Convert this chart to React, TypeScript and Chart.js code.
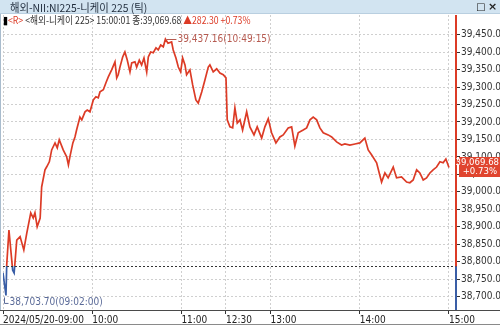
import { useEffect, useRef } from 'react';
import { Chart, registerables } from 'chart.js';

Chart.register(...registerables);

// ---- data ----
const TIMES: string[] = [
  '09:00:00', '09:01:00', '09:02:00', '09:02:30', '09:04:00', '09:06:30', '09:07:30', '09:09:15',
  '09:11:30', '09:14:00', '09:16:00', '09:18:40', '09:20:20', '09:21:30', '09:23:00', '09:25:00',
  '09:26:00', '09:28:15', '09:29:20', '09:31:10', '09:32:45', '09:35:00', '09:36:30', '09:37:50',
  '09:40:30', '09:42:50', '09:44:00', '09:45:00', '09:47:00', '09:48:25', '09:49:30', '09:51:45',
  '09:53:00', '09:55:10', '09:56:40', '09:58:30', '10:00:45', '10:02:30', '10:04:05', '10:05:15',
  '10:07:30', '10:09:15', '10:10:50', '10:13:05', '10:15:20', '10:16:30', '10:17:30', '10:18:40',
  '10:20:30', '10:22:00', '10:23:35', '10:25:25', '10:26:35', '10:28:45', '10:29:55', '10:31:40',
  '10:33:15', '10:34:50', '10:36:40', '10:37:45', '10:39:20', '10:41:05', '10:42:55', '10:44:25',
  '10:46:05', '10:47:50', '10:49:15', '10:51:00', '10:53:25', '10:54:30', '10:56:20', '10:57:55',
  '10:59:30', '11:00:50', '11:02:25', '11:03:30', '11:05:45', '11:07:35', '11:09:45', '11:11:20',
  '11:13:40', '11:15:50', '11:18:05', '11:19:10', '11:21:25', '11:23:45', '11:25:55', '11:28:10',
  '11:30:00', '12:30:50', '12:32:40', '12:34:30', '12:36:00', '12:37:35', '12:39:25', '12:41:10',
  '12:43:55', '12:46:05', '12:48:50', '12:51:00', '12:54:00', '12:56:10', '12:58:25', '13:00:40',
  '13:03:35', '13:06:15', '13:08:30', '13:11:50', '13:14:10', '13:16:20', '13:18:35', '13:21:55',
  '13:24:15', '13:26:30', '13:28:40', '13:31:00', '13:33:10', '13:35:25', '13:38:45', '13:41:05',
  '13:44:25', '13:47:45', '13:50:00', '13:53:20', '13:56:45', '14:00:05', '14:03:25', '14:05:40',
  '14:07:55', '14:11:20', '14:13:05', '14:14:40', '14:16:55', '14:19:05', '14:22:30', '14:24:45',
  '14:28:05', '14:31:30', '14:33:40', '14:35:55', '14:38:15', '14:40:25', '14:42:40', '14:44:55',
  '14:47:10', '14:49:20', '14:51:40', '14:53:55', '14:56:05', '14:57:55', '15:00:00',
];

const PRICES: number[] = [
  38768, 38735, 38703.7, 38791, 38891, 38776, 38768, 38862,
  38872, 38834, 38882, 38940, 38925, 38940, 38900, 38925,
  39014, 39063, 39071, 39086, 39120, 39140, 39126, 39149,
  39120, 39100, 39077, 39100, 39140, 39157, 39177, 39214,
  39206, 39229, 39234, 39229, 39263, 39272, 39269, 39286,
  39292, 39312, 39329, 39349, 39372, 39326, 39335, 39357,
  39386, 39400, 39377, 39343, 39369, 39372, 39357, 39377,
  39363, 39383, 39343, 39386, 39400, 39398, 39412, 39406,
  39420, 39415, 39437.16, 39425, 39429, 39406, 39383, 39357,
  39343, 39383, 39363, 39335, 39349, 39306, 39263, 39254,
  39286, 39320, 39357, 39363, 39343, 39352, 39340, 39335,
  39326, 39206, 39186, 39183, 39240, 39197, 39206, 39177,
  39229, 39186, 39163, 39186, 39154, 39186, 39209, 39169,
  39140, 39157, 39163, 39183, 39186, 39131, 39169, 39177,
  39183, 39206, 39214, 39206, 39183, 39169, 39163, 39157,
  39143, 39134, 39137, 39134, 39137, 39140, 39154, 39120,
  39106, 39083, 39054, 39028, 39054, 39040, 39071, 39040,
  39043, 39028, 39026, 39034, 39063, 39054, 39034, 39040,
  39054, 39063, 39071, 39086, 39083, 39094, 39069.68,
];

const PREV_CLOSE = 38787.38;
const LAST_PRICE = 39069.68;
const LAST_TIME = '15:00:01';
const CHANGE = 282.3;
const CHANGE_PCT = 0.73;
const HIGH_TIME = '10:49:15';
const HIGH_PRICE = 39437.16;
const LOW_TIME = '09:02:00';
const LOW_PRICE = 38703.7;

const Y_TICKS: number[] = [
  38700, 38750, 38800, 38850, 38900, 38950, 39000, 39050,
  39100, 39150, 39200, 39250, 39300, 39350, 39400, 39450,
];
const X_TICK_TIMES: string[] = ['09:00', '10:00', '11:00', '12:30', '13:00', '14:00', '15:00'];
const X_TICK_LABELS: string[] = ['2024/05/20-09:00', '10:00', '11:00', '12:30', '13:00', '14:00', '15:00'];

const TITLE = '해외-NII:NI225-니케이 225 (틱)';
const SUBTITLE_NAME = '<해외-니케이 225>';

// ---- helpers ----
const RED = '#dc3b26';
const BLUE = '#3a5ea6';
const NARROW = '"Liberation Sans Narrow", "DejaVu Sans Condensed", "Liberation Sans", sans-serif';

function tradingMinute(t: string): number {
  const parts = t.split(':').map(Number);
  const clock = parts[0] * 60 + parts[1] + (parts[2] || 0) / 60;
  const open = 9 * 60;
  const amClose = 11 * 60 + 30;
  const pmOpen = 12 * 60 + 30;
  if (clock <= amClose) return clock - open;
  return 150 + (clock - pmOpen);
}

const fmt = (v: number) =>
  v.toLocaleString('en-US', { minimumFractionDigits: 2, maximumFractionDigits: 2 });

const overlayPlugin = {
  id: 'overlay',
  afterDatasetsDraw(chart: any) {
    const { ctx, chartArea, scales } = chart;
    const xs = scales.x;
    const ys = scales.y;
    const yBase = Math.round(ys.getPixelForValue(PREV_CLOSE)) + 0.5;
    ctx.save();
    // previous close dashed line
    ctx.strokeStyle = '#333';
    ctx.lineWidth = 1;
    ctx.setLineDash([2, 2]);
    ctx.beginPath();
    ctx.moveTo(chartArea.left, yBase);
    ctx.lineTo(chartArea.right, yBase);
    ctx.stroke();
    ctx.setLineDash([]);

    // right axis line, red above / blue below the previous close
    const ax = chartArea.right - 1;
    ctx.lineWidth = 2;
    ctx.strokeStyle = RED;
    ctx.beginPath();
    ctx.moveTo(ax, chartArea.top);
    ctx.lineTo(ax, yBase);
    ctx.stroke();
    ctx.strokeStyle = BLUE;
    ctx.beginPath();
    ctx.moveTo(ax, yBase);
    ctx.lineTo(ax, chartArea.bottom);
    ctx.stroke();

    // high annotation
    const hx = xs.getPixelForValue(tradingMinute(HIGH_TIME));
    const hy = Math.round(ys.getPixelForValue(HIGH_PRICE)) + 0.5;
    ctx.lineWidth = 1;
    ctx.strokeStyle = '#b65a50';
    ctx.beginPath();
    ctx.moveTo(hx + 1, hy);
    ctx.lineTo(hx + 11, hy);
    ctx.stroke();
    ctx.fillStyle = '#b65a50';
    ctx.font = `10px ${NARROW}`;
    ctx.textBaseline = 'middle';
    ctx.textAlign = 'left';
    ctx.fillText(`${fmt(HIGH_PRICE)}(${HIGH_TIME})`, hx + 12, hy);

    // low annotation
    const lx = Math.round(xs.getPixelForValue(tradingMinute(LOW_TIME))) - 1.5;
    const ly = ys.getPixelForValue(LOW_PRICE);
    ctx.strokeStyle = '#5a6a98';
    ctx.beginPath();
    ctx.moveTo(lx, ly + 2);
    ctx.lineTo(lx, ly + 8);
    ctx.lineTo(lx + 4, ly + 8);
    ctx.stroke();
    ctx.fillStyle = '#5a6a98';
    ctx.fillText(`${fmt(LOW_PRICE)}(${LOW_TIME})`, lx + 5, ly + 7);

    // last price tag
    const py = ys.getPixelForValue(LAST_PRICE);
    const bx = chartArea.right + 1;
    const top = Math.round(py - 11);
    ctx.fillStyle = '#e0452f';
    ctx.beginPath();
    ctx.moveTo(bx - 2, top + 5);
    ctx.lineTo(bx + 1, top + 2);
    ctx.lineTo(bx + 1, top);
    ctx.lineTo(chart.width, top);
    ctx.lineTo(chart.width, top + 20);
    ctx.lineTo(bx + 1, top + 20);
    ctx.lineTo(bx + 1, top + 8);
    ctx.closePath();
    ctx.fill();
    ctx.fillStyle = '#fff';
    ctx.font = `9.5px ${NARROW}`;
    ctx.textAlign = 'right';
    ctx.fillText(fmt(LAST_PRICE), chart.width - 1, top + 5.5);
    ctx.fillText(`+${CHANGE_PCT.toFixed(2)}%`, chart.width - 3, top + 15);
    ctx.restore();
  },
  afterDraw(chart: any) {
    const { ctx, chartArea } = chart;
    ctx.save();
    ctx.lineWidth = 1;
    ctx.strokeStyle = '#4a4a4a';
    ctx.beginPath();
    ctx.moveTo(0, chartArea.bottom + 0.5);
    ctx.lineTo(chart.width, chartArea.bottom + 0.5);
    ctx.stroke();
    ctx.strokeStyle = '#8a8a8a';
    ctx.beginPath();
    ctx.moveTo(0, chart.height - 1.5);
    ctx.lineTo(chart.width, chart.height - 1.5);
    ctx.stroke();
    ctx.strokeStyle = '#a9bccd';
    ctx.beginPath();
    ctx.moveTo(0.5, 14);
    ctx.lineTo(0.5, chartArea.bottom);
    ctx.stroke();
    ctx.restore();
  },
};

function PriceChart() {
  const ref = useRef<HTMLCanvasElement | null>(null);

  useEffect(() => {
    document.body.style.margin = '0';
    if (!ref.current) return;
    const points = TIMES.map((t, i) => ({ x: tradingMinute(t), y: PRICES[i] }));
    const chart = new Chart(ref.current, {
      type: 'line',
      data: {
        datasets: [
          {
            data: points,
            borderWidth: 1.7,
            pointRadius: 0,
            tension: 0,
            borderColor: (c: any) => {
              const ch = c.chart;
              const area = ch.chartArea;
              if (!area) return RED;
              const yb = ch.scales.y.getPixelForValue(PREV_CLOSE);
              let f = (yb - area.top) / (area.bottom - area.top);
              f = Math.min(1, Math.max(0, f));
              const g = ch.ctx.createLinearGradient(0, area.top, 0, area.bottom);
              g.addColorStop(0, RED);
              g.addColorStop(f, RED);
              g.addColorStop(f, BLUE);
              g.addColorStop(1, BLUE);
              return g;
            },
          },
        ],
      },
      options: {
        animation: false,
        responsive: false,
        events: [],
        layout: { padding: { left: 3, top: 15, right: 0, bottom: 0 } },
        plugins: { legend: { display: false }, tooltip: { enabled: false } },
        scales: {
          x: {
            type: 'linear',
            min: 0,
            max: 305.4,
            afterBuildTicks: (s: any) => {
              s.ticks = X_TICK_TIMES.map((t) => ({ value: tradingMinute(t) }));
            },
            afterFit: (s: any) => {
              s.height = 16;
            },
            ticks: {
              autoSkip: false,
              maxRotation: 0,
              minRotation: 0,
              align: 'start',
              padding: 0,
              color: '#222',
              font: { family: NARROW, size: 10 },
              callback: (_v: any, i: number) => X_TICK_LABELS[i],
            },
            grid: {
              color: '#cfcfcf',
              tickColor: '#333',
              tickLength: 4,
              tickBorderDash: [],
            },
            border: { display: false, dash: [2, 2] },
          },
          y: {
            position: 'right',
            min: 38662,
            max: 39506,
            afterBuildTicks: (s: any) => {
              s.ticks = Y_TICKS.map((v) => ({ value: v }));
            },
            afterFit: (s: any) => {
              s.width = 43;
            },
            ticks: {
              autoSkip: false,
              padding: 1,
              color: '#333',
              font: { family: NARROW, size: 10 },
              callback: (v: any) => fmt(Number(v)),
            },
            grid: {
              color: '#cfcfcf',
              tickColor: '#333',
              tickLength: 3,
              tickBorderDash: [],
            },
            border: { display: false, dash: [2, 2] },
          },
        },
      } as any,
      plugins: [overlayPlugin],
    });
    return () => chart.destroy();
  }, []);

  return (
    <canvas
      ref={ref}
      width={500}
      height={326}
      style={{ position: 'absolute', left: 0, top: 0, width: 500, height: 326 }}
    />
  );
}

export default function App() {
  const txt = { fontFamily: '"Liberation Sans Narrow", "Noto Sans CJK KR", sans-serif' };
  return (
    <div style={{ position: 'relative', width: 500, height: 326, background: '#fff', overflow: 'hidden' }}>
      <PriceChart />
      <div
        style={{
          position: 'absolute', left: 0, top: 0, width: 500, height: 14,
          background: '#d2e4f1', borderBottom: '1px solid #b9cfe0', boxSizing: 'border-box',
        }}
      >
        <span
          style={{
            ...txt, position: 'absolute', left: 10, top: 0, fontSize: 11, lineHeight: '14px',
            color: '#1e2a3a', whiteSpace: 'nowrap', transform: 'scaleX(0.94)', transformOrigin: 'left center',
          }}
        >
          {TITLE}
        </span>
        <span style={{ position: 'absolute', left: 476, top: 0, fontSize: 10, lineHeight: '14px', color: '#222', fontFamily: 'DejaVu Sans' }}>□</span>
        <span style={{ position: 'absolute', left: 488, top: 0, fontSize: 11, lineHeight: '13px', color: '#222', fontWeight: 'bold', fontFamily: 'DejaVu Sans' }}>×</span>
      </div>
      <div
        style={{
          ...txt, position: 'absolute', left: 3, top: 14, height: 12, fontSize: 10.5,
          lineHeight: '12px', whiteSpace: 'nowrap', color: '#333',
          transform: 'scaleX(0.83)', transformOrigin: 'left center',
        }}
      >
        <span style={{ color: '#000' }}>▮</span>
        <span style={{ color: RED }}>{'<R>'}</span>{' '}
        <span>{SUBTITLE_NAME}</span>{' '}
        <span>{LAST_TIME}</span>{' '}
        <span>종:{fmt(LAST_PRICE)}</span>{' '}
        <span style={{ color: RED }}>▲{fmt(CHANGE)} +{CHANGE_PCT.toFixed(2)}%</span>
      </div>
    </div>
  );
}
